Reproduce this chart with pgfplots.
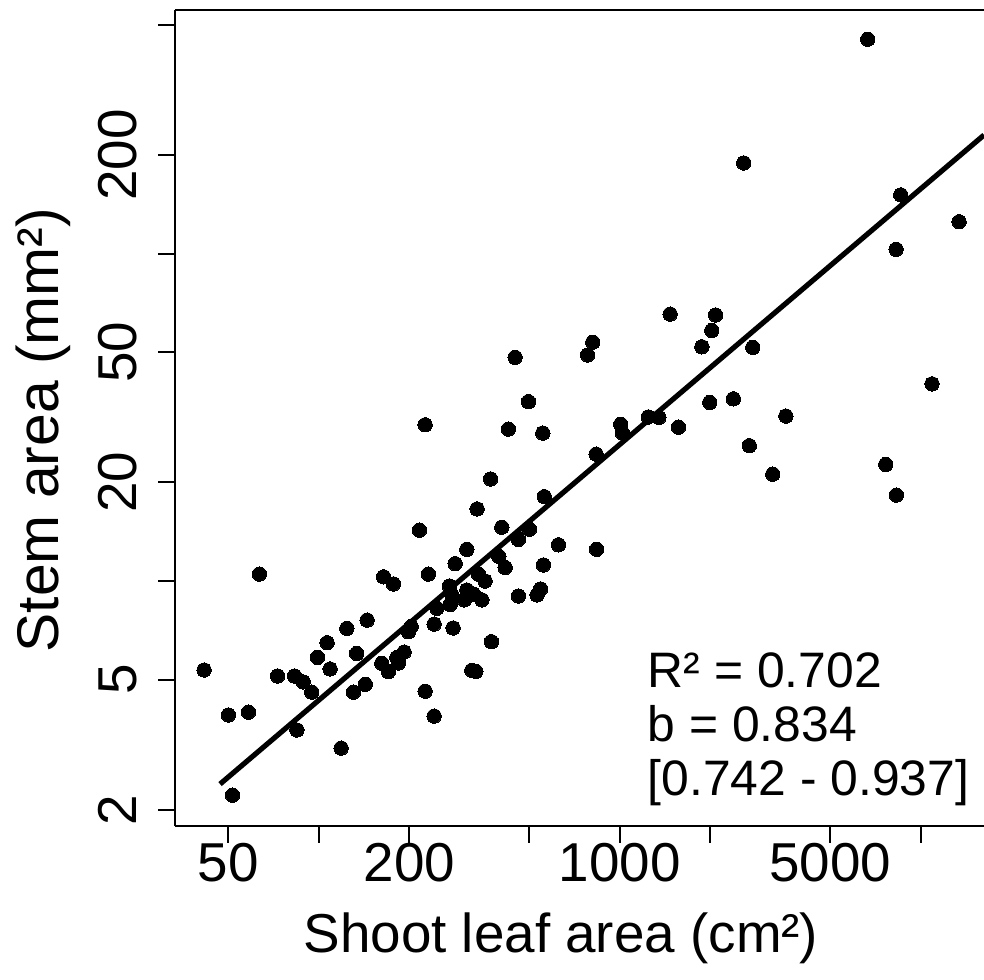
\documentclass[border=0pt]{standalone}
\usepackage{fontspec}
\setmainfont{Liberation Sans}
\usepackage{pgfplots}
\pgfplotsset{compat=1.18}

\begin{document}
\begin{tikzpicture}
\begin{axis}[
    name=ax,
    scale only axis,
    width=404.5bp, height=408bp,
    xmode=log, ymode=log,
    xmin=33.3, xmax=16240,
    ymin=1.787, ymax=554,
    axis x line*=bottom, axis y line*=left,
    axis line style={line width=1bp, black, -},
    tick align=outside,
    major tick length=8.5bp,
    tick style={line width=1bp, black},
    xtick={50,100,200,500,1000,2000,5000,10000},
    xticklabels={50,,200,,1000,,5000,},
    ytick={2,5,10,20,50,100,200,500},
    yticklabels={2,5,,20,50,,200,},
    minor xtick={}, minor ytick={},
    font=\fontsize{27.5}{33}\selectfont,
    xticklabel style={anchor=base, yshift=-19.5bp},
    yticklabel style={xshift=-11bp, rotate=90, anchor=base},
    xlabel={Shoot leaf area (cm²)},
    ylabel={Stem area (mm²)},
    xlabel style={at={(axis description cs:0.477,-0.1544)}, anchor=base},
    ylabel style={at={(axis description cs:-0.163,0.485)}, anchor=center,
        font=\fontsize{29.5}{35}\selectfont},
    clip mode=individual,
]
% observations
\addplot[only marks, mark=*, mark size=3.6bp,
    mark options={fill=black, draw=black, line width=0pt}] coordinates {
    (41.6,5.35) (50.1,3.90) (51.7,2.22) (58.4,3.98) (63.5,10.5)
    (73.0,5.13) (83.1,5.13) (84.6,3.51) (88.8,4.92) (94.8,4.58)
    (99.0,5.85) (106.6,6.48) (109.1,5.39) (118.7,3.09) (124.0,7.17)
    (130.4,4.58) (133.6,6.01) (142.8,4.84) (144.8,7.60) (162.0,5.61)
    (164.3,10.3) (170.4,5.29) (177.1,9.80) (181.8,5.84) (184.0,5.62)
    (192.2,6.07) (198.6,7.00) (202.8,7.26) (216.0,14.3) (225.7,30.0)
    (225.7,4.61) (231.4,10.5) (241.8,7.39) (241.8,3.87) (246.9,8.26)
    (271.8,9.66) (273.3,8.48) (276.8,9.07) (279.6,7.19) (284.0,11.3)
    (304.8,8.76) (310.5,12.5) (310.5,9.39) (322.6,5.34) (326.6,9.13)
    (332.6,5.30) (335.9,16.6) (339.3,10.5) (348.3,8.76) (357.1,10.0)
    (372.5,20.5) (374.8,6.53) (396.6,11.9) (405.8,14.6) (416.2,11.0)
    (426.8,29.1) (449.3,48.2) (460.8,13.4) (460.8,9.00) (497.5,35.3)
    (501.2,14.4) (531.6,9.07) (546.0,9.46) (555.3,28.3) (557.8,11.2)
    (561.7,18.1) (625.8,12.9) (782.4,49.0) (814.0,53.6) (835.0,24.4)
    (838.2,12.5) (1008,30.1) (1022,28.3) (1245,31.7) (1350,31.6)
    (1471,65.3) (1567,29.5) (1876,51.9) (1992,35.1) (2023,58.2)
    (2083,64.9) (2386,36.0) (2584,189) (2696,25.9) (2768,51.7)
    (3226,21.2) (3566,31.9) (6671,451) (7657,22.7) (8286,103)
    (8305,18.3) (8589,151) (10910,40.0) (13420,125)
};
% fitted line
\addplot[line width=2.6bp, black] coordinates {(47.0,2.40) (16240,230)};
\draw[line width=1bp] (rel axis cs:0,1) -- (rel axis cs:1,1);
\node[anchor=base west, font=\fontsize{25}{30}\selectfont] at (axis cs:1175,4.72) {R² = 0.702};
\node[anchor=base west, font=\fontsize{25}{30}\selectfont] at (axis cs:1175,3.23) {b = 0.834};
\node[anchor=base west, font=\fontsize{25}{30}\selectfont] at (axis cs:1175,2.22) {[0.742 - 0.937]};
\end{axis}
\pgfresetboundingbox
\path[use as bounding box] ([shift={(-87.5bp,-76.5bp)}]ax.south west)
    rectangle ([shift={(0bp,5bp)}]ax.north east);
\end{tikzpicture}
\end{document}
